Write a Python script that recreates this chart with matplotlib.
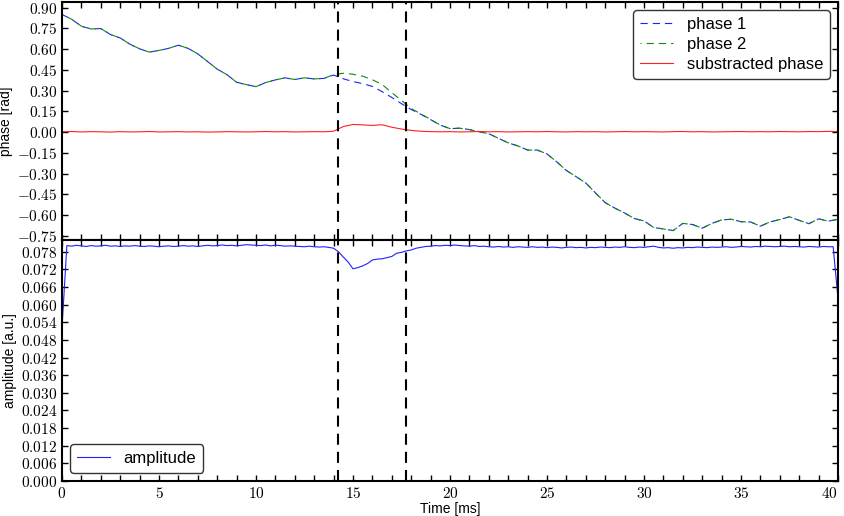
import numpy as np
import matplotlib
matplotlib.use("Agg")
import matplotlib.pyplot as plt
from matplotlib.ticker import MultipleLocator, FuncFormatter, FixedLocator

plt.rcParams['font.family'] = ['Liberation Sans', 'DejaVu Sans']
plt.rcParams['mathtext.fontset'] = 'cm'

# ---------------- data ----------------
t_phase = np.arange(0, 40.01, 0.5)
phase1 = [0.850, 0.815, 0.765, 0.745, 0.748, 0.705, 0.680, 0.635, 0.602, 0.578,
          0.590, 0.605, 0.628, 0.605, 0.565, 0.510, 0.455, 0.415, 0.360, 0.343,
          0.328, 0.358, 0.377, 0.392, 0.380, 0.392, 0.384, 0.388, 0.412, 0.385,
          0.365, 0.350, 0.330, 0.292, 0.250, 0.205, 0.163, 0.128, 0.090, 0.050,
          0.025, 0.028, 0.018, 0.002, -0.012, -0.045, -0.078, -0.100, -0.130, -0.130,
          -0.158, -0.215, -0.278, -0.322, -0.368, -0.440, -0.510, -0.550, -0.585, -0.625,
          -0.642, -0.690, -0.700, -0.712, -0.660, -0.668, -0.695, -0.660, -0.635, -0.630,
          -0.648, -0.650, -0.680, -0.649, -0.632, -0.612, -0.638, -0.662, -0.627, -0.644,
          -0.630]
phase2 = [0.850, 0.815, 0.765, 0.745, 0.748, 0.705, 0.680, 0.635, 0.602, 0.578,
          0.590, 0.605, 0.628, 0.605, 0.565, 0.510, 0.455, 0.415, 0.360, 0.343,
          0.328, 0.358, 0.377, 0.392, 0.380, 0.392, 0.384, 0.388, 0.415, 0.425,
          0.418, 0.404, 0.378, 0.344, 0.285, 0.228, 0.170, 0.131, 0.091, 0.051,
          0.025, 0.028, 0.018, 0.002, -0.012, -0.045, -0.078, -0.100, -0.130, -0.130,
          -0.158, -0.215, -0.278, -0.322, -0.368, -0.440, -0.510, -0.550, -0.585, -0.625,
          -0.642, -0.690, -0.700, -0.712, -0.660, -0.668, -0.695, -0.660, -0.635, -0.630,
          -0.648, -0.650, -0.680, -0.649, -0.632, -0.612, -0.638, -0.662, -0.627, -0.644,
          -0.630]
sub_phase = [0.002, 0.004, 0.001, 0.003, 0.002, 0.000, 0.003, 0.001, 0.002, 0.004,
             0.001, 0.002, 0.003, 0.001, 0.002, 0.000, 0.001, 0.003, 0.002, 0.001,
             0.002, 0.004, 0.002, 0.003, 0.001, 0.002, 0.003, 0.002, 0.006, 0.040,
             0.055, 0.052, 0.048, 0.053, 0.035, 0.022, 0.012, 0.006, 0.003, 0.002,
             0.003, 0.001, 0.002, 0.004, 0.002, 0.003, 0.001, 0.002, 0.003, 0.002,
             0.004, 0.002, 0.001, 0.003, 0.002, 0.003, 0.001, 0.002, 0.004, 0.002,
             0.003, 0.002, 0.001, 0.003, 0.004, 0.002, 0.003, 0.001, 0.002, 0.003,
             0.004, 0.002, 0.003, 0.002, 0.004, 0.003, 0.002, 0.004, 0.003, 0.005,
             0.004]

t_amp = np.arange(0, 40.01, 0.25)
amplitude = [
    0.0520, 0.0801, 0.0799, 0.0802, 0.0800, 0.0798, 0.0801, 0.0799,
    0.0800, 0.0802, 0.0799, 0.0800, 0.0798, 0.0800, 0.0799, 0.0801,
    0.0799, 0.0798, 0.0800, 0.0799, 0.0797, 0.0799, 0.0800, 0.0798,
    0.0799, 0.0801, 0.0799, 0.0800, 0.0798, 0.0800, 0.0802, 0.0800,
    0.0801, 0.0803, 0.0801, 0.0802, 0.0800, 0.0802, 0.0804, 0.0803,
    0.0802, 0.0801, 0.0803, 0.0800, 0.0802, 0.0801, 0.0799, 0.0800,
    0.0799, 0.0798, 0.0797, 0.0799, 0.0797, 0.0796, 0.0797, 0.0795,
    0.0792, 0.0780, 0.0762, 0.0745, 0.0722, 0.0726, 0.0732, 0.0740,
    0.0752, 0.0755, 0.0756, 0.0760, 0.0764, 0.0775, 0.0778, 0.0783,
    0.0786, 0.0792, 0.0795, 0.0798, 0.0799, 0.0801, 0.0800, 0.0802,
    0.0801, 0.0803, 0.0801, 0.0800, 0.0799, 0.0801, 0.0798, 0.0799,
    0.0797, 0.0796, 0.0798, 0.0796, 0.0797, 0.0795, 0.0797, 0.0796,
    0.0795, 0.0797, 0.0795, 0.0796, 0.0794, 0.0796, 0.0795, 0.0793,
    0.0795, 0.0796, 0.0794, 0.0795, 0.0793, 0.0795, 0.0794, 0.0796,
    0.0795, 0.0794, 0.0796, 0.0795, 0.0797, 0.0795, 0.0794, 0.0796,
    0.0795, 0.0797, 0.0799, 0.0795, 0.0793, 0.0794, 0.0792, 0.0794,
    0.0793, 0.0795, 0.0794, 0.0796, 0.0795, 0.0794, 0.0796, 0.0795,
    0.0796, 0.0797, 0.0795, 0.0796, 0.0798, 0.0797, 0.0796, 0.0798,
    0.0797, 0.0799, 0.0798, 0.0797, 0.0798, 0.0799, 0.0797, 0.0798,
    0.0797, 0.0796, 0.0798, 0.0797, 0.0796, 0.0798, 0.0797, 0.0797,
    0.0620]

event_times = [14.23, 17.73]
phase_ticks = [0.90, 0.75, 0.60, 0.45, 0.30, 0.15, 0.00, -0.15, -0.30, -0.45, -0.60, -0.75]
amp_ticks = [0.000, 0.006, 0.012, 0.018, 0.024, 0.030, 0.036, 0.042, 0.048,
             0.054, 0.060, 0.066, 0.072, 0.078]
x_ticks = [0, 5, 10, 15, 20, 25, 30, 35, 40]

# ---------------- figure ----------------
fig = plt.figure(figsize=(8.44, 5.16), dpi=100)
ax1 = fig.add_axes([62/844, 1-240/516, 776/844, 238/516])
ax2 = fig.add_axes([62/844, 1-481/516, 776/844, 241/516], sharex=ax1)

ax1.plot(t_phase, phase1, color='#2020ff', lw=0.8, linestyle=(0, (6.5, 4.5)), label='phase 1')
ax1.plot(t_phase, phase2, color='#118811', lw=0.8, linestyle=(5.5, (6.5, 4.5)), label='phase 2')
ax1.plot(t_phase, sub_phase, color='#ff2020', lw=0.8, label='substracted phase')

ax2.plot(t_amp, amplitude, color='#2020ff', lw=0.8, label='amplitude')

for ax in (ax1, ax2):
    for et in event_times:
        ax.axvline(et, color='k', lw=1.5, dashes=(5.3, 3.4))
    for s in ax.spines.values():
        s.set_linewidth(1.5)
    ax.tick_params(which='both', direction='in', top=True, right=True,
                   length=4, width=1, labelsize=11)
    ax.xaxis.set_major_locator(FixedLocator(x_ticks))
    ax.xaxis.set_minor_locator(MultipleLocator(1))

ax1.set_xlim(0, 40)
ax1.set_ylim(-0.78, 0.94)
ax2.set_ylim(0, 0.082)

ax1.yaxis.set_major_locator(FixedLocator(phase_ticks))
ax1.yaxis.set_major_formatter(FuncFormatter(lambda v, p: r'$%.2f$' % (0.0 if abs(v) < 1e-9 else v)))
ax2.yaxis.set_major_locator(FixedLocator(amp_ticks))
ax2.yaxis.set_major_formatter(FuncFormatter(lambda v, p: r'$%.3f$' % v))
ax2.xaxis.set_major_formatter(FuncFormatter(lambda v, p: r'$%d$' % round(v)))
plt.setp(ax1.get_xticklabels(), visible=False)

ax1.set_ylabel('phase [rad]', fontsize=10, labelpad=3)
ax2.set_ylabel('amplitude [a.u.]', fontsize=10, labelpad=3)
ax2.set_xlabel('Time [ms]', fontsize=10, labelpad=1)

leg1 = ax1.legend(loc='upper right', fontsize=12, fancybox=True, framealpha=1,
                  edgecolor='#333333', handlelength=2, handletextpad=0.8,
                  borderpad=0.4, labelspacing=0.3)
leg2 = ax2.legend(loc='lower left', fontsize=12, fancybox=True, framealpha=1,
                  edgecolor='#333333', handlelength=2, handletextpad=0.8,
                  borderpad=0.4, labelspacing=0.3)
for lg in (leg1, leg2):
    lg.get_frame().set_linewidth(1.0)

fig.canvas.draw()
xlabels = ax2.get_xticklabels()
xlabels[-1].set_horizontalalignment('right')

fig.savefig('out.png', dpi=100)
